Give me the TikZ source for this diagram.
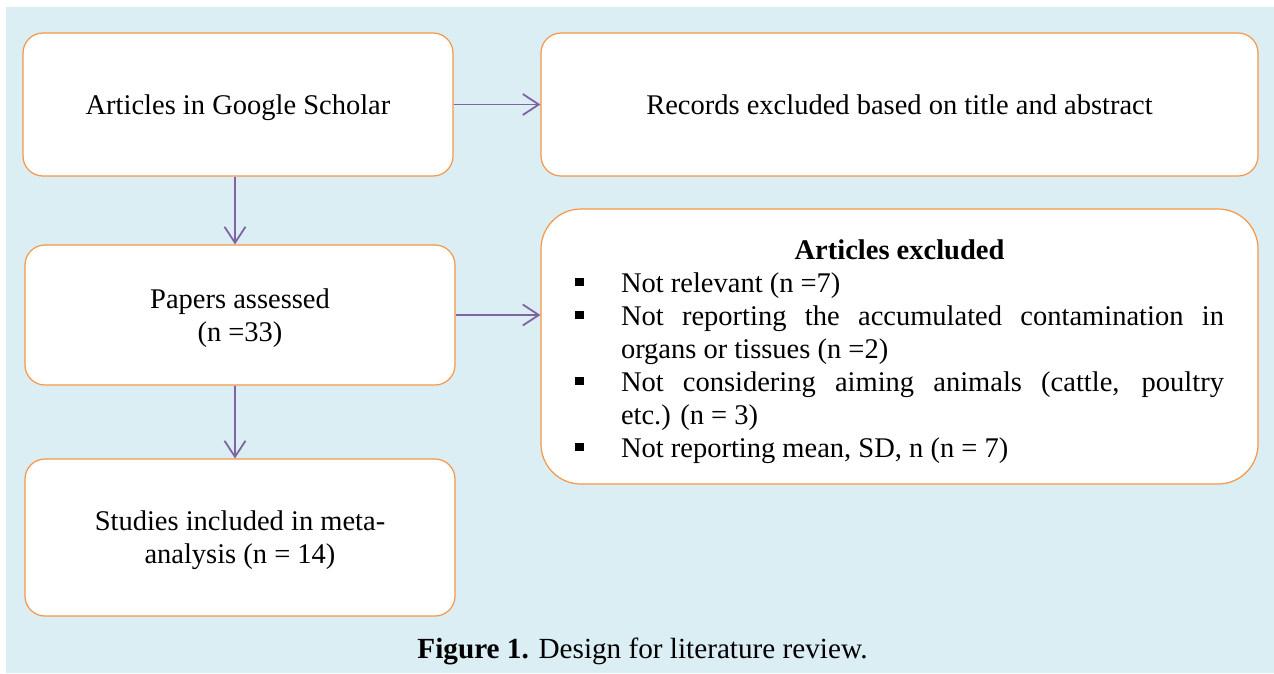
\documentclass[tikz,border=0pt]{standalone}
\usepackage{fontspec}
\setmainfont{Liberation Serif}
\usepackage{xcolor}
\usetikzlibrary{arrows.meta}

\definecolor{bgblue}{HTML}{DAEEF3}
\definecolor{boxorange}{HTML}{F79646}
\definecolor{arrowpurple}{HTML}{8064A2}

% one bullet line of the exclusion list
\newcommand{\exclitem}[1]{\par\hangindent=46pt\hangafter=1\noindent\makebox[46pt][l]{\rule[6pt]{8.5pt}{8.5pt}}#1}

\begin{document}
\begin{tikzpicture}[
    x=1pt, y=-1pt,
    stage/.style={rectangle, rounded corners=20pt, draw=boxorange, line width=1.2pt, fill=white, minimum width=430pt, minimum height=143pt, align=center, text depth=0pt, font=\fontsize{28.5}{33}\selectfont},
    arrow/.style={-{Straight Barb[length=16pt,width=21pt]}, line width=1.8pt, arrowpurple}
]

\useasboundingbox (0,0) rectangle (1274,673);
\fill[bgblue] (6,7) rectangle (1274,673);

\node[stage] (scholar) at (238,104.5) {Articles in Google Scholar};
\node[stage, minimum width=717pt] (records) at (899.5,104.5) {Records excluded based on title and abstract};
\node[stage, minimum height=140pt] (assessed) at (240,315) {Papers assessed\\(n =33)};
\node[stage, minimum width=717pt, minimum height=275pt, rounded corners=40pt, text depth=] (excl) at (899.5,346.5) {\parbox{649pt}{\hbadness=10000
  \vspace*{10pt}\makebox[649pt]{\textbf{Articles excluded}}
  \exclitem{Not relevant (n =7)}
  \exclitem{Not reporting the accumulated contamination in\linebreak organs or tissues (n =2)}
  \exclitem{Not considering aiming animals (cattle, poultry\linebreak etc.) (n = 3)}
  \exclitem{Not reporting mean, SD, n (n = 7)}}};
\node[stage, minimum height=157pt] (included) at (240,537.5) {Studies included in meta-\\analysis (n = 14)};
\node[anchor=base, font=\fontsize{29.2}{33}\selectfont] (caption) at (642.5,658) {\textbf{Figure 1.} Design for literature review.};

\draw[arrow] (scholar) -- (records);
\draw[arrow] ([xshift=-3pt]scholar.south) -- ([xshift=-3pt]scholar.south |- assessed.north);
\draw[arrow] (assessed.east) -- (assessed.east -| excl.west);
\draw[arrow] ([xshift=-5pt]assessed.south) -- ([xshift=-5pt]included.north);

\end{tikzpicture}
\end{document}
